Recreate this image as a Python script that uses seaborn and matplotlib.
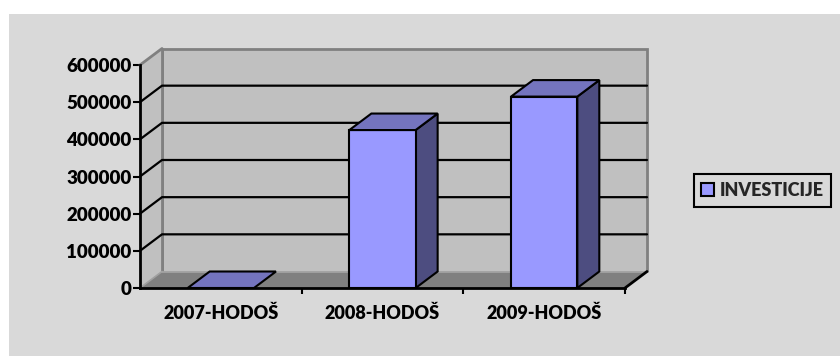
import matplotlib
matplotlib.use("Agg")
import matplotlib.pyplot as plt
import seaborn as sns
import pandas as pd
import numpy as np
from matplotlib.patches import Polygon, Rectangle
from matplotlib.lines import Line2D

# --- data -------------------------------------------------------------
categories = ["2007-HODOŠ", "2008-HODOŠ", "2009-HODOŠ"]
investicije = [0, 425000, 515000]
series_name = "INVESTICIJE"
y_ticks = [0, 100000, 200000, 300000, 400000, 500000, 600000]
y_tick_labels = ["0", "100000", "200000", "300000", "400000", "500000", "600000"]

# --- colours ------------------------------------------------------------
BG = "#d9d9d9"
WALL = "#c0c0c0"
WALL_EDGE = "#808080"
FLOOR = "#808080"
BAR_FRONT = "#9999ff"
BAR_TOP = "#7474be"
BAR_SIDE = "#4d4d80"
WEIGHT = "heavy"

sns.set_theme(style="white")
plt.rcParams["font.family"] = ["Lato", "DejaVu Sans"]
plt.rcParams["font.weight"] = WEIGHT

W, H, DPI = 840, 356, 100
fig = plt.figure(figsize=(W / DPI, H / DPI), dpi=DPI, facecolor="white")

# grey chart area
fig.patches.append(Rectangle((9 / W, 0), 1 - 9 / W, (H - 14) / H,
                             transform=fig.transFigure, facecolor=BG,
                             edgecolor="none", zorder=-10))

ax = fig.add_axes([140 / W, (H - 288) / H, 485 / W, 223 / H])
ax.patch.set_visible(False)

df = pd.DataFrame({"kategorija": categories, "vrijednost": investicije,
                   "serija": series_name})
sns.barplot(data=df, x="kategorija", y="vrijednost", hue="serija",
            palette=[BAR_FRONT], width=0.41, edgecolor="black",
            linewidth=1.5, saturation=1, ax=ax, zorder=6, legend=True)
bars = [b for c in ax.containers for b in c]

xmin, xmax = -0.5, len(categories) - 0.5
ymax = y_ticks[-1]
ax.set_xlim(xmin, xmax)
ax.set_ylim(0, ymax)

# depth of the 3-D box expressed in data units (22 px right, 16.5 px up)
p0 = ax.transData.transform((0, 0))
p1 = ax.transData.inverted().transform(p0 + np.array([22.0, 16.5]))
dx, dy = p1[0], p1[1]

kw = dict(clip_on=False)

# back wall
ax.add_patch(Polygon([(xmin + dx, dy), (xmin + dx, ymax + dy),
                      (xmax + dx, ymax + dy), (xmax + dx, dy)],
                     closed=False, facecolor=WALL, edgecolor=WALL_EDGE,
                     lw=2, zorder=1, **kw))
# side wall
ax.add_patch(Polygon([(xmin, 0), (xmin, ymax), (xmin + dx, ymax + dy),
                      (xmin + dx, dy)], facecolor=WALL, edgecolor="none",
                     zorder=1, **kw))
ax.add_line(Line2D([xmin, xmin + dx], [ymax, ymax + dy], color=WALL_EDGE,
                   lw=2, zorder=2, **kw))
ax.add_line(Line2D([xmin + dx, xmin + dx], [dy, ymax + dy], color=WALL_EDGE,
                   lw=2, zorder=2, **kw))

# gridlines on the back and side walls
for v in y_ticks[1:-1]:
    ax.add_line(Line2D([xmin, xmin + dx, xmax + dx], [v, v + dy, v + dy],
                       color="black", lw=1.6, zorder=2, **kw))

# floor
ax.add_patch(Polygon([(xmin, 0), (xmax, 0), (xmax + dx, dy), (xmin + dx, dy)],
                     facecolor=FLOOR, edgecolor="none", zorder=3, **kw))
ax.add_line(Line2D([xmin, xmin + dx], [0, dy], color="#a0a0a0", lw=1.2,
                   zorder=3, **kw))
ax.add_line(Line2D([xmin + dx, xmax + dx], [dy, dy], color="#a6a6a6", lw=1.2,
                   zorder=3, **kw))
ax.add_line(Line2D([xmax, xmax + dx], [0, dy], color="black", lw=2,
                   zorder=4, **kw))

# top and side faces of each bar
for bar in bars:
    x0, w, h = bar.get_x(), bar.get_width(), bar.get_height()
    if h > 0:
        ax.add_patch(Polygon([(x0 + w, 0), (x0 + w + dx, dy),
                              (x0 + w + dx, h + dy), (x0 + w, h)],
                             facecolor=BAR_SIDE, edgecolor="black", lw=1.5,
                             joinstyle="miter", zorder=5, **kw))
    ax.add_patch(Polygon([(x0, h), (x0 + w, h), (x0 + w + dx, h + dy),
                          (x0 + dx, h + dy)],
                         facecolor=BAR_TOP, edgecolor="black", lw=1.5,
                         joinstyle="miter", zorder=7, **kw))

# axes, ticks and labels
for side in ["top", "right"]:
    ax.spines[side].set_visible(False)
for side in ["left", "bottom"]:
    ax.spines[side].set_color("black")
    ax.spines[side].set_linewidth(2)
    ax.spines[side].set_zorder(8)

ax.set_yticks(y_ticks, y_tick_labels)
ax.set_xticks(range(len(categories)), categories)
ax.set_xticks([0.5, 1.5, 2.5], minor=True)
ax.tick_params(axis="y", direction="out", length=5, width=1.5,
               color="black", pad=1, labelsize=13.5, left=True)
ax.tick_params(axis="x", which="major", length=0, pad=12, labelsize=13)
ax.tick_params(axis="x", which="minor", direction="out", length=4.5,
               width=1.5, color="black", bottom=True)
for lab in ax.get_xticklabels() + ax.get_yticklabels():
    lab.set_fontweight(WEIGHT)
    lab.set_color("black")
ax.set_xlabel("")
ax.set_ylabel("")

# legend
handles, labels = ax.get_legend_handles_labels()
for hnd in handles:
    hnd.set_edgecolor("black")
    hnd.set_linewidth(1.5)
leg = ax.legend(handles, labels, loc="center",
                bbox_to_anchor=(762.5 / W, (H - 190.5) / H),
                bbox_transform=fig.transFigure, frameon=True,
                fancybox=False, framealpha=1, facecolor=BG,
                edgecolor="black", fontsize=13, handlelength=0.7,
                handleheight=0.7, handletextpad=0.32, borderpad=0.42,
                borderaxespad=0)
leg.get_frame().set_linewidth(1.5)
for t in leg.get_texts():
    t.set_fontweight(WEIGHT)

fig.savefig("out.png", dpi=DPI, facecolor="white")
